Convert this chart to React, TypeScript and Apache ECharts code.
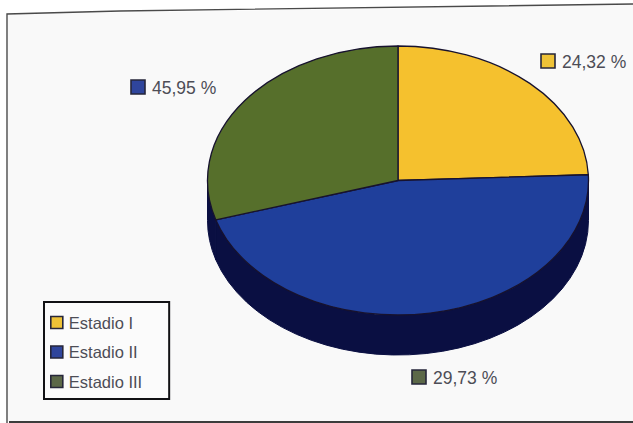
import React, { useEffect, useRef } from "react";
import * as echarts from "echarts";

// Tumour stage shares, in percent
const stages = ["Estadio I", "Estadio II", "Estadio III"];
const shares = [24.32, 45.95, 29.73];

const topColors = ["#f5c12e", "#1f3f9b", "#566f2b"];
const legendColors = ["#eec237", "#2f459c", "#5c6848"];
const sideColor = "#0a0f42";
const edgeColor = "#17122e";
const textColor = "#4d4d56";
const fontFamily = '"Liberation Sans", Arial, sans-serif';

// Tilted disc geometry
const CX = 398;
const CY = 180.5;
const RX = 190.5;
const RY = 134.5;
const DEPTH = 40;

// Marker corner of each percentage label
const labelSpots = [
  [541, 54],
  [131, 80],
  [412, 370],
];
const labelOrder = [0, 2, 1];

const toAngle = (pct: number) => (pct / 100) * Math.PI * 2;
const px = (t: number) => CX + RX * Math.sin(t);
const py = (t: number) => CY - RY * Math.cos(t);

function topPath(a: number, b: number) {
  const large = b - a > Math.PI ? 1 : 0;
  return `M${CX} ${CY}L${px(a)} ${py(a)}A${RX} ${RY} 0 ${large} 1 ${px(b)} ${py(b)}Z`;
}

function sidePath(a: number, b: number) {
  const from = Math.max(a, Math.PI / 2);
  const to = Math.min(b, (Math.PI * 3) / 2);
  if (to <= from) return null;
  const large = to - from > Math.PI ? 1 : 0;
  return (
    `M${px(from)} ${py(from)}A${RX} ${RY} 0 ${large} 1 ${px(to)} ${py(to)}` +
    `L${px(to)} ${py(to) + DEPTH}A${RX} ${RY} 0 ${large} 0 ${px(from)} ${py(from) + DEPTH}Z`
  );
}

const formatShare = (v: number) => `${v.toFixed(2).replace(".", ",")} %`;

export default function App() {
  const ref = useRef<HTMLDivElement>(null);

  useEffect(() => {
    if (!ref.current) return;
    const chart = echarts.init(ref.current, undefined, { renderer: "svg" });

    const series = stages.map((name, i) => {
      const before = shares.slice(0, i).reduce((s, v) => s + v, 0);
      return {
        type: "custom",
        name,
        coordinateSystem: "none",
        itemStyle: { color: topColors[i] },
        data: [[shares[i]]],
        renderItem: (_p: unknown, api: any) => {
          const value = api.value(0) as number;
          const a = toAngle(before);
          const b = toAngle(before + value);
          const side = sidePath(a, b);
          const [mx, my] = labelSpots[i];
          const children: any[] = [];
          if (side) {
            children.push({
              type: "path",
              z2: 1,
              shape: { pathData: side },
              style: { fill: sideColor, stroke: sideColor, lineWidth: 1 },
            });
          }
          children.push({
            type: "path",
            z2: 5,
            shape: { pathData: topPath(a, b) },
            style: { fill: topColors[i], stroke: edgeColor, lineWidth: 1.3, lineJoin: "round" },
          });
          children.push({
            type: "rect",
            z2: 6,
            shape: { x: mx, y: my, width: 14, height: 14 },
            style: { fill: legendColors[i], stroke: "#26263a", lineWidth: 1.6 },
          });
          children.push({
            type: "text",
            z2: 6,
            style: {
              text: formatShare(value),
              x: mx + 21,
              y: my + 7.5,
              fill: textColor,
              font: `17.5px ${fontFamily}`,
              verticalAlign: "middle",
              textAlign: "left",
            },
          });
          return { type: "group", children };
        },
      };
    });

    chart.setOption({
      animation: false,
      backgroundColor: "#ffffff",
      legend: {
        orient: "vertical",
        left: 44,
        top: 302,
        padding: [12, 27, 9, 6],
        itemGap: 12.5,
        itemWidth: 12,
        itemHeight: 12,
        borderColor: "#111114",
        borderWidth: 2,
        borderRadius: 0,
        backgroundColor: "#fbfbfb",
        selectedMode: false,
        textStyle: { color: textColor, fontSize: 16.5, fontFamily, padding: [0, 0, 0, 1] },
        data: stages.map((name, i) => ({
          name,
          icon: "rect",
          itemStyle: { color: legendColors[i], borderColor: "#26263a", borderWidth: 1.6 },
        })),
      },
      graphic: [
        {
          type: "polygon",
          silent: true,
          z: -5,
          shape: { points: [[8, 14], [633, 5], [633, 421], [8, 421]] },
          style: { fill: "#f9f9f9" },
        },
        {
          type: "polyline",
          silent: true,
          z: -4,
          shape: { points: [[7, 423], [7, 14], [120, 11], [633, 4]] },
          style: { stroke: "#4a4a4a", lineWidth: 1.4, fill: "none" },
        },
        {
          type: "line",
          silent: true,
          z: -4,
          shape: { x1: 9, y1: 422, x2: 633, y2: 422 },
          style: { stroke: "#3c3c3c", lineWidth: 2 },
        },
      ],
      series,
    });

    return () => chart.dispose();
  }, []);

  return (
    <div
      ref={ref}
      style={{ position: "absolute", left: 0, top: 0, width: 633, height: 423 }}
    />
  );
}
